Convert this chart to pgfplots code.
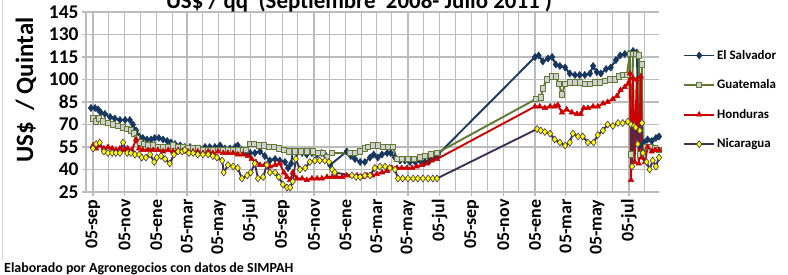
\documentclass[border=0pt]{standalone}
\usepackage{fontspec}
\setmainfont{Carlito}
\usepackage{pgfplots}
\pgfplotsset{compat=1.18}
\definecolor{esc}{HTML}{17375E}
\definecolor{guc}{HTML}{5F7A30}
\definecolor{gufill}{HTML}{D0D0D0}
\definecolor{hoc}{HTML}{CC0000}
\definecolor{nic}{HTML}{403152}
\definecolor{nifill}{HTML}{FFFF00}
\definecolor{gridc}{HTML}{BBBBBB}
\begin{document}
\begin{tikzpicture}
\useasboundingbox (0,0) rectangle (788bp,-275bp);
\fill[white] (0,0) rectangle (788bp,-275bp);
\draw[gray!35, line width=1.5bp] (2.5bp,0) -- (2.5bp,-260bp);
\begin{axis}[
  at={(86bp,-192bp)}, anchor=south west,
  scale only axis, width=573bp, height=180bp,
  xmin=-13.5, xmax=1091, ymin=25, ymax=145,
  ytick={25,40,...,145},
  xtick={0,61,122,181,242,303,365,426,487,546,607,668,730,791,852,911,972,1033},
  xticklabels={05-sep,05-nov,05-ene,05-mar,05-may,05-jul,05-sep,05-nov,05-ene,05-mar,05-may,05-jul,05-sep,05-nov,05-ene,05-mar,05-may,05-jul},
  minor xtick={30,91,153,211,272,333,395,456,518,576,637,698,760,821,883,941,1002,1063},
  grid=both,
  major grid style={gridc, line width=1.3bp},
  minor grid style={gridc, line width=1.1bp},
  separate axis lines,
  axis x line*=bottom, axis y line*=left,
  axis line style={gridc, line width=1.3bp, -},
  tick style={gridc, line width=1.2bp},
  tick align=outside,
  major tick length=4bp, minor tick length=0pt,
  /pgf/number format/assume math mode=true,
  yticklabel style={font=\bfseries\fontsize{19.5}{20}\selectfont, text=black},
  xticklabel style={rotate=90, anchor=east, font=\bfseries\fontsize{18}{18}\selectfont, text=black},
  every tick label/.append style={text=black},
  legend style={at={(1.042,0.80)}, anchor=north west, draw=none, fill=none,
    font=\bfseries\fontsize{13}{13}\selectfont, row sep=15bp, inner sep=0pt},
  legend cell align=left,
  legend image code/.code={\draw[mark repeat=2,mark phase=2] plot coordinates {(0bp,0bp)(15bp,0bp)(30bp,0bp)};},
  every axis plot/.append style={line width=1.9bp, line join=round},
]
\addplot[esc, mark=diamond*, mark size=3.6bp, mark options={fill=esc, draw=esc, line width=0.5bp}] coordinates {
(-4,81)(4,81)(10,80)(15,78)(23,77)(33,75)(42,74)(52,73)(62,73)(71,73)(77,70)(83,66)(89,62)(96,61)(104,60)(112,60)(119,61)(127,61)(135,60)(143,59)(150,58)(158,57)(168,56)(177,55)(187,55)(197,54)(206,54)(216,55)(225,55)(235,55)(245,56)(254,54)(264,54)(274,55)(279,56)(287,53)(295,51)(303,51)(312,51)(322,52)(331,49)(341,46)(351,47)(360,46)(370,45)(376,41)(382,44)(385,52)(393,51)(403,51)(412,50)(422,51)(432,50)(441,51)(449,49)(457,43)
(489,52)(497,49)(505,47)(515,45)(524,45)(534,48)(541,50)(549,48)(557,50)(567,51)(574,51)(582,48)(592,46)(601,46)(611,45)(621,45)(630,46)(640,45)(649,46)(657,48)(665,50)
(852,115)(859,116)(867,112)(877,114)(885,115)(892,110)(900,109)(910,108)(919,104)(929,103)(938,103)(948,103)(958,104)(964,109)(971,105)(979,104)(989,107)(998,108)(1008,113)(1016,116)(1025,117)(1033,117)(1041,119)(1048,118)(1054,56)(1062,58)(1069,60)(1077,59)(1085,61)(1091,62)
};
\addlegendentry{El Salvador}
\addplot[guc, mark=square*, mark size=2.6bp, mark options={fill=gufill, draw=guc, line width=1bp}] coordinates {
(0,74)(6,72)(12,74)(19,72)(29,71)(39,70)(48,69)(58,68)(66,67)(73,66)(79,64)(85,61)(91,58)(98,57)(106,56)(116,56)(125,55)(135,55)(145,55)(154,56)(164,55)(173,55)(183,54)(193,54)(202,54)(212,53)(222,53)(231,53)(241,53)(251,53)(260,53)(270,53)(279,53)(289,53)(295,53)(303,57)(310,57)(320,56)(330,56)(339,55)(349,55)(358,54)(368,53)(378,52)(389,52)(401,52)(412,52)(424,52)(434,51)(443,51)(451,48)(461,51)
(495,51)(505,51)(515,52)(524,54)(530,55)(540,56)(549,56)(559,55)(568,55)(578,55)(586,47)(595,47)(607,47)(619,47)(630,48)(640,49)(651,50)(663,51)
(854,87)(863,88)(867,94)(875,100)(885,102)(892,102)(898,97)(904,90)(910,97)(919,98)(929,98)(938,98)(948,97)(958,97)(967,98)(977,98)(987,99)(996,100)(1006,100)(1014,102)(1021,103)(1029,103)(1035,117)(1037,50)(1041,117)(1046,117)(1052,116)(1054,50)(1058,110)(1060,50)(1067,55)(1075,55)(1083,54)(1091,53)
};
\addlegendentry{Guatemala}
\addplot[hoc, mark=triangle*, mark size=3.2bp, mark options={fill=hoc, draw=hoc, line width=0.5bp}] coordinates {
(0,56)(6,54)(13,56)(21,54)(29,55)(37,54)(44,53)(52,54)(60,53)(67,54)(75,53)(83,60)(89,54)(96,53)(106,53)(116,53)(125,53)(135,52)(145,53)(154,52)(164,53)(173,52)(183,52)(193,52)(202,52)(212,51)(222,52)(231,51)(241,52)(251,51)(260,51)(270,51)(279,50)(289,50)(299,49)(306,47)(314,45)(322,43)(331,43)(341,42)(351,43)(360,44)(368,38)(374,35)(380,33)(385,38)(393,34)(403,34)(412,33)(422,34)(432,34)(441,34)(451,35)(461,35)(470,35)(480,35)(489,36)(499,36)(509,36)(518,35)(528,36)(538,36)(547,37)(557,38)(567,39)(576,41)(586,41)(595,41)(605,41)(615,41)(624,42)(634,43)(644,44)(653,46)(663,47)
(852,82)(861,82)(871,81)(881,82)(890,82)(896,83)(904,78)(913,80)(923,78)(933,77)(940,77)(946,81)(954,81)(964,82)(973,82)(983,84)(992,85)(1002,87)(1010,89)(1017,93)(1025,95)(1031,97)(1035,104)(1037,33)(1041,101)(1044,45)(1048,100)(1052,44)(1056,102)(1058,48)(1064,45)(1069,55)(1077,52)(1083,53)(1091,53)
};
\addlegendentry{Honduras}
\addplot[nic, mark=diamond*, mark size=3.5bp, mark options={fill=nifill, draw=nic, line width=0.6bp}] coordinates {
(0,54)(6,57)(13,58)(21,52)(29,51)(37,51)(44,51)(52,51)(58,58)(66,51)(73,51)(81,50)(89,50)(94,48)(102,48)(110,50)(118,45)(123,48)(131,49)(139,47)(148,44)(156,50)(164,52)(172,52)(177,53)(185,51)(193,51)(202,50)(212,50)(222,50)(231,49)(239,48)(249,46)(252,38)(260,43)(270,42)(279,41)(287,34)(297,36)(304,38)(312,44)(318,34)(328,35)(335,43)(341,38)(351,38)(358,35)(366,30)(374,28)(380,28)(385,32)(391,47)(399,40)(409,41)(418,45)(428,46)(437,46)(447,46)(455,45)(461,40)(466,38)
(499,36)(507,35)(515,35)(524,36)(534,36)(543,41)(553,42)(563,42)(572,41)(582,40)(588,34)(597,34)(607,34)(617,34)(626,34)(636,34)(646,34)(655,34)(663,34)
(856,67)(863,66)(871,65)(881,64)(890,60)(900,58)(910,56)(919,58)(925,64)(935,62)(944,62)(954,58)(965,58)(973,63)(983,66)(992,70)(1002,69)(1012,71)(1021,71)(1031,72)(1037,70)(1039,42)(1043,69)(1046,68)(1050,57)(1054,66)(1058,71)(1060,51)(1067,45)(1073,40)(1079,46)(1085,42)(1091,48)
};
\addlegendentry{Nicaragua}
\end{axis}
\node[anchor=base, font=\bfseries\fontsize{23}{23}\selectfont] at (359bp,-8bp) {US\$ / qq \ (Septiembre \ 2008- Julio 2011 )};
\node[rotate=90, anchor=base, font=\bfseries\fontsize{25}{25}\selectfont] at (33bp,-90bp) {US\$ \ / Quintal};
\node[anchor=base west, inner sep=0pt, font=\bfseries\fontsize{14}{14}\selectfont] at (4bp,-272bp) {Elaborado por Agronegocios con datos de SIMPAH};
\end{tikzpicture}
\end{document}
